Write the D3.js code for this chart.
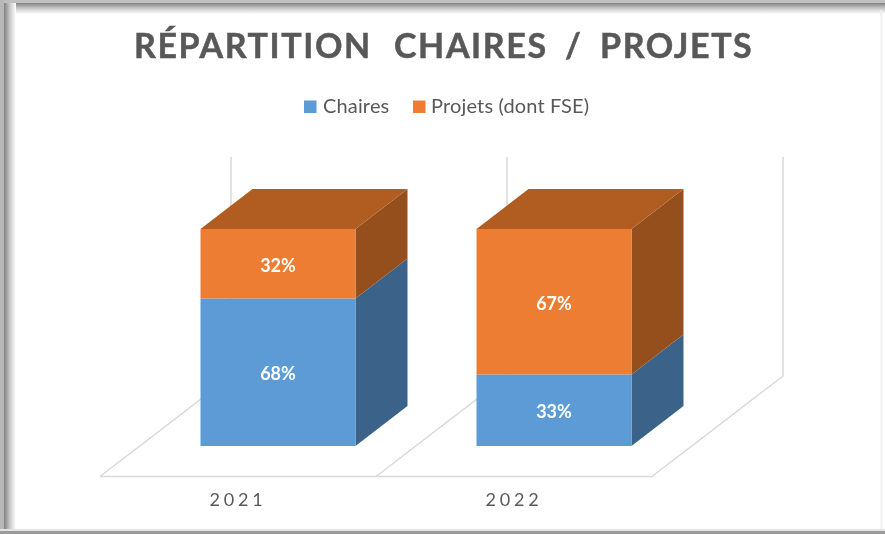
<!DOCTYPE html>
<html><head><meta charset="utf-8">
<script src="https://cdn.jsdelivr.net/npm/d3@7"></script>
<style>html,body{margin:0;padding:0;background:#fff;overflow:hidden}svg{display:block}text{font-family:Lato,"Open Sans",sans-serif}</style>
</head><body><div id="chart"></div>
<script>
const years = ["2021", "2022"];
const seriesNames = ["Chaires", "Projets (dont FSE)"];
const chaires = [68, 33];
const projets = [32, 67];
const colors = ["#5b9bd5", "#ed7d31"];
const sideColors = ["#3a6489", "#95501f"];
const topColor = "#b15d22";
const titleWords = ["RÉPARTITION", "CHAIRES", "/", "PROJETS"];
const titleStarts = [134, 394, 565, 600];

const W = 885, H = 534;
const svg = d3.select("#chart").append("svg").attr("width", W).attr("height", H);
const defs = svg.append("defs");
const soft = defs.append("filter").attr("id", "soft").attr("x", "-5%").attr("y", "-5%").attr("width", "110%").attr("height", "110%");
soft.append("feGaussianBlur").attr("stdDeviation", 0.5);

// frame
svg.append("rect").attr("width", W).attr("height", H).attr("fill", "#fff");
const addGrad = (id, x1, y1, x2, y2) => {
  const g = defs.append("linearGradient").attr("id", id).attr("x1", x1).attr("y1", y1).attr("x2", x2).attr("y2", y2);
  g.append("stop").attr("offset", 0).attr("stop-color", "#808080");
  g.append("stop").attr("offset", 0.45).attr("stop-color", "#c4c4c4");
  g.append("stop").attr("offset", 1).attr("stop-color", "#fff");
};
addGrad("gl", 0, 0, 1, 0); addGrad("gt", 0, 0, 0, 1);
svg.append("rect").attr("x", 4).attr("y", 3).attr("width", W - 4).attr("height", 11).attr("fill", "url(#gt)");
svg.append("rect").attr("x", 4).attr("y", 3).attr("width", 12).attr("height", H - 6).attr("fill", "url(#gl)");
svg.append("rect").attr("x", 0).attr("y", 0).attr("width", W).attr("height", 3).attr("fill", "#c0c0c0");
svg.append("rect").attr("x", 0).attr("y", 0).attr("width", 4).attr("height", H).attr("fill", "#b8b8b8");
svg.append("line").attr("x1", 881.5).attr("x2", 881.5).attr("y1", 10).attr("y2", 530).attr("stroke", "#efefef").attr("stroke-width", 2);
svg.append("rect").attr("x", 0).attr("y", 529).attr("width", W).attr("height", 2).attr("fill", "#e4e4e4");
svg.append("rect").attr("x", 0).attr("y", 531).attr("width", W).attr("height", 3).attr("fill", "#9a9a9a");

const dx = 52, dy = -40;          // depth of each bar
const wallDx = 131;               // depth of the floor
const x = d3.scaleBand().domain(years).range([100, 652]);
const barW = 155;
const barX = d => x(d) + (x.bandwidth() - barW) / 2 + 40;
const y = d3.scaleLinear().domain([0, 100]).range([446, 229]);
const wallY = d3.scaleLinear().domain([0, 100]).range([376, 157]);
const floorY = 476.5;

const plot = svg.append("g").attr("filter", "url(#soft)");
const grid = plot.append("g").attr("fill", "none").attr("stroke", "#d9d9d9").attr("stroke-width", 1.5);
const edges = x.domain().map(d => x(d)).concat([x.range()[1]]);
grid.append("line").attr("x1", edges[0]).attr("x2", edges[2]).attr("y1", floorY).attr("y2", floorY);
edges.forEach(e => {
  grid.append("path").attr("d", d3.line()([[e, floorY], [e + wallDx, wallY(0)], [e + wallDx, wallY(100)]]));
});

const stacked = d3.stack().keys([0, 1]).value((d, k) => d[k])(years.map((_, i) => [chaires[i], projets[i]]));
stacked.forEach((layer, s) => {
  const g = plot.append("g");
  g.selectAll("path.side").data(layer).join("path").attr("class", "side")
    .attr("fill", sideColors[s])
    .attr("d", (d, i) => {
      const x1 = barX(years[i]) + barW, a = y(d[0]), b = y(d[1]);
      return d3.line()([[x1, a], [x1 + dx, a + dy], [x1 + dx, b + dy], [x1, b]]) + "Z";
    });
  g.selectAll("rect").data(layer).join("rect")
    .attr("x", (d, i) => barX(years[i])).attr("width", barW)
    .attr("y", d => y(d[1])).attr("height", d => y(d[0]) - y(d[1]))
    .attr("fill", colors[s]);
  if (s === 1) {
    g.selectAll("path.top").data(layer).join("path").attr("class", "top")
      .attr("fill", topColor)
      .attr("d", (d, i) => {
        const x0 = barX(years[i]), b = y(d[1]);
        return d3.line()([[x0, b], [x0 + dx, b + dy], [x0 + barW + dx, b + dy], [x0 + barW, b]]) + "Z";
      });
  }
  g.selectAll("text").data(layer).join("text")
    .attr("x", (d, i) => barX(years[i]) + barW / 2)
    .attr("y", d => (y(d[0]) + y(d[1])) / 2 + 8)
    .attr("text-anchor", "middle").attr("fill", "#fff")
    .attr("font-size", 18).attr("font-weight", 700)
    .text(d => (d[1] - d[0]) + "%");
});

const xAxis = plot.append("g").attr("transform", `translate(0,${floorY})`)
  .call(d3.axisBottom(x).tickSize(0).tickPadding(17));
xAxis.select(".domain").remove();
xAxis.selectAll("text").attr("font-size", 18).attr("fill", "#595959")
  .attr("letter-spacing", "3.8px").style("font-family", 'Lato,"Open Sans",sans-serif');

// title
const title = plot.append("text").attr("y", 58).attr("font-size", 34).attr("font-weight", 700)
  .attr("fill", "#595959").attr("letter-spacing", "1.6px").attr("stroke", "#595959").attr("stroke-width", 0.5);
title.selectAll("tspan").data(titleWords).join("tspan")
  .attr("x", (d, i) => titleStarts[i]).text(d => d);

// legend
const legendX = [304, 413], legendText = [323, 431];
seriesNames.forEach((n, i) => {
  plot.append("rect").attr("x", legendX[i]).attr("y", 100.5).attr("width", 12.5).attr("height", 12.5).attr("fill", colors[i]);
  plot.append("text").attr("x", legendText[i]).attr("y", 113).attr("font-size", 20)
    .attr("letter-spacing", "0.15px").attr("fill", "#595959").text(n);
});
</script></body></html>
